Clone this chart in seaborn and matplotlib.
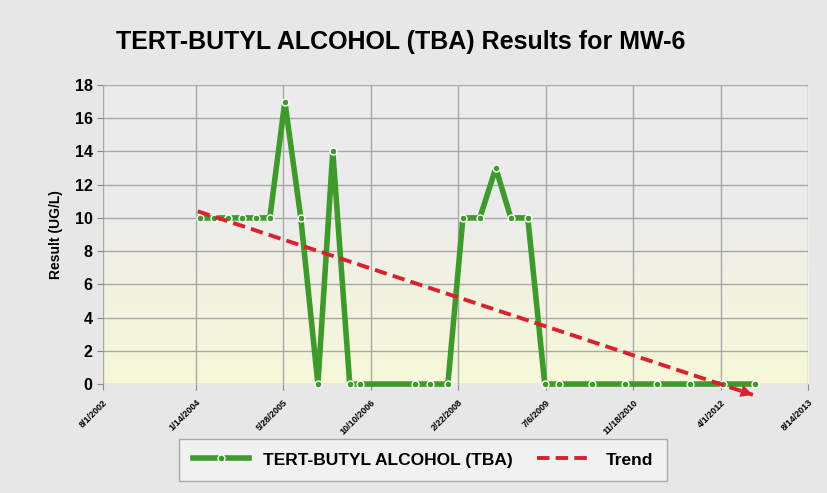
import matplotlib.pyplot as plt
import numpy as np
import pandas as pd
import seaborn as sns

# Sample dates / results
sample_dates = ['2004-02-06', '2004-04-26', '2004-07-15', '2004-10-03', '2004-12-22',
                '2005-03-12', '2005-06-06', '2005-09-05', '2005-12-12', '2006-03-07',
                '2006-06-12', '2006-08-09', '2007-06-19', '2007-09-13', '2007-12-25',
                '2008-03-20', '2008-06-25', '2008-09-24', '2008-12-19', '2009-03-26',
                '2009-07-01', '2009-09-19', '2010-03-27', '2010-10-02', '2011-04-03',
                '2011-10-08', '2012-04-14', '2012-10-14']
tba_results = [10, 10, 10, 10, 10, 10, 17, 10, 0, 14,
               0, 0, 0, 0, 0, 10, 10, 13, 10, 10,
               0, 0, 0, 0, 0, 0, 0, 0]

# Trend line end points
trend_dates = ['2004-01-25', '2012-10-03']
trend_values = [10.4, -0.65]

tick_dates = ['8/1/2002', '1/14/2004', '5/28/2005', '10/10/2006', '2/22/2008',
              '7/6/2009', '11/18/2010', '4/1/2012', '8/14/2013']

df = pd.DataFrame({'date': pd.to_datetime(sample_dates), 'result': tba_results})
trend = pd.DataFrame({'date': pd.to_datetime(trend_dates), 'value': trend_values})
ticks = pd.to_datetime(tick_dates, format='%m/%d/%Y')

plt.rcParams['font.family'] = ['Liberation Sans', 'DejaVu Sans']
plt.rcParams['font.weight'] = 'bold'

fig = plt.figure(figsize=(8.27, 4.93), dpi=100)
fig.patch.set_facecolor('#e7e7e7')
ax = fig.add_axes([0.1245, 0.221, 0.8525, 0.6066])

# background gradient: gray top -> pale yellow bottom
grad = np.linspace(0, 1, 256).reshape(-1, 1)
top = np.array([0.925, 0.925, 0.925])
bot = np.array([0.97, 0.97, 0.85])
img = top + (bot - top) * np.clip((grad - 0.45) / 0.55, 0, 1) ** 0.8
ax.imshow(img[:, None, :].repeat(2, axis=1), extent=[0, 1, 0, 1], transform=ax.transAxes,
          aspect='auto', origin='upper', zorder=0)

sns.lineplot(data=df, x='date', y='result', ax=ax, color='#3f9a2c', lw=4,
             marker='o', markersize=5, markerfacecolor='#3f9a2c',
             markeredgecolor='white', markeredgewidth=1,
             label='TERT-BUTYL ALCOHOL (TBA)', zorder=3, clip_on=False)
sns.lineplot(data=trend, x='date', y='value', ax=ax, color='#d9202e', lw=2.8,
             dashes=(3.2, 1.6), label='Trend', zorder=4, clip_on=False)
ax.annotate('', xy=(trend['date'].iloc[-1], trend['value'].iloc[-1]),
            xytext=(trend['date'].iloc[0], trend['value'].iloc[0]),
            arrowprops=dict(arrowstyle='-|>', color='#d9202e', lw=0, mutation_scale=22,
                            shrinkA=0, shrinkB=0), zorder=4, annotation_clip=False)

ax.set_xlim(ticks[0], ticks[-1])
ax.set_ylim(0, 18)
ax.set_yticks(range(0, 19, 2))
ax.set_xticks(ticks)
ax.set_xticklabels(tick_dates, rotation=45, ha='right', rotation_mode='anchor',
                   fontsize=6.5, fontweight='bold')
ax.tick_params(axis='y', labelsize=11.5, length=4, color='#888888')
ax.tick_params(axis='x', length=4, color='#888888', pad=6)
ax.grid(True, color='#a8a8a8', lw=1)
for s in ax.spines.values():
    s.set_visible(False)
ax.set_xlabel('')
ax.set_ylabel('Result (UG/L)', fontsize=10, fontweight='bold', labelpad=8)
ax.legend_.remove()

fig.suptitle('TERT-BUTYL ALCOHOL (TBA) Results for MW-6', x=0.484, y=0.94,
             fontsize=18, fontweight='bold')

h, l = ax.get_legend_handles_labels()
leg = fig.legend(h, l, loc='center', bbox_to_anchor=(0.512, 0.067), ncol=2,
                 fontsize=12.5, frameon=True, fancybox=False, edgecolor='#999999',
                 handlelength=3.2, columnspacing=1.4, borderpad=0.8)
leg.get_frame().set_facecolor('#f4f4f4')

fig.savefig('out.png', dpi=100)
